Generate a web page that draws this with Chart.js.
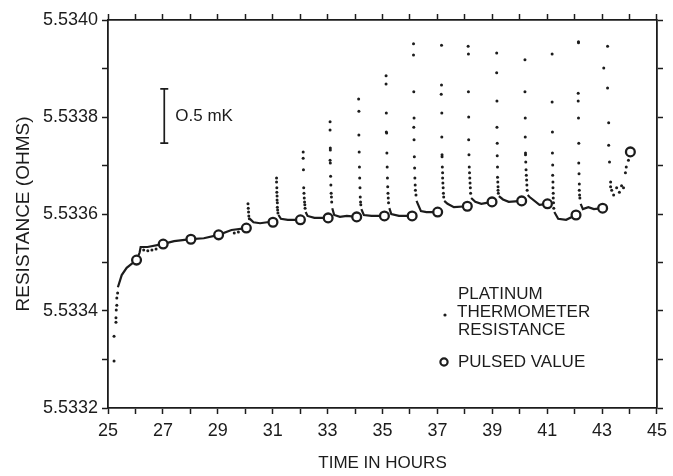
<!DOCTYPE html>
<html>
<head>
<meta charset="utf-8">
<script src="https://cdn.jsdelivr.net/npm/chart.js@4.4.1/dist/chart.umd.min.js"></script>
<style>
  html, body { margin: 0; padding: 0; background: #fff; }
  canvas { display: block; }
</style>
</head>
<body>
<canvas id="chart" width="673" height="476"></canvas>
<script>
// pulsed values (circles)
const pulsedHours = [26.04, 27.01, 28.02, 29.03, 30.04, 31.01, 32.01, 33.02, 34.06, 35.07,
                     36.08, 37.01, 38.09, 38.99, 40.07, 41.01, 42.05, 43.02, 44.03];
const pulsedOhms  = [5.533505, 5.533538, 5.533548, 5.533557, 5.533571, 5.533583, 5.533588, 5.533592, 5.533594, 5.533596,
                     5.533596, 5.533604, 5.533616, 5.533625, 5.533627, 5.533621, 5.533598, 5.533612, 5.533728];

// dense parts of the thermometer record (drawn as a line, null = break)
const traceHours = [
  25.36, 25.50, 25.68, 25.86, 26.04, 26.15, 26.19, 26.44, 26.98, 27.41, 28.02, 28.49, 29.03, 29.50, 30.04, null,
  30.17, 30.30, 30.54, 30.80, 31.01, null,
  31.21, 31.30, 31.55, 32.01, null,
  32.20, 32.27, 32.52, 33.02, null,
  33.17, 33.24, 33.45, 33.70, 34.06, null,
  34.23, 34.32, 34.60, 35.07, null,
  35.25, 35.32, 35.60, 36.08, null,
  36.24, 36.40, 36.60, 37.01, null,
  37.25, 37.37, 37.60, 38.09, null,
  38.23, 38.38, 38.60, 38.99, null,
  39.24, 39.39, 39.60, 40.07, null,
  40.29, 40.36, 40.72, 41.01, null,
  41.26, 41.40, 41.69, 42.05, null,
  42.22, 42.30, 42.50, 42.70, 43.02
];
const traceOhms = [
  5.533449, 5.533474, 5.533489, 5.533497, 5.533505, 5.533520, 5.533532, 5.533532, 5.533538, 5.533544, 5.533548, 5.533550, 5.533557, 5.533567, 5.533571, null,
  5.533590, 5.533583, 5.533581, 5.533583, 5.533583, null,
  5.533598, 5.533590, 5.533588, 5.533588, null,
  5.533604, 5.533596, 5.533592, 5.533592, null,
  5.533612, 5.533598, 5.533594, 5.533596, 5.533594, null,
  5.533610, 5.533598, 5.533596, 5.533596, null,
  5.533612, 5.533600, 5.533596, 5.533596, null,
  5.533627, 5.533606, 5.533604, 5.533604, null,
  5.533627, 5.533621, 5.533614, 5.533616, null,
  5.533633, 5.533625, 5.533621, 5.533625, null,
  5.533637, 5.533630, 5.533625, 5.533627, null,
  5.533639, 5.533635, 5.533619, 5.533621, null,
  5.533604, 5.533590, 5.533588, 5.533598, null,
  5.533621, 5.533610, 5.533614, 5.533610, 5.533612
];

// single readings (dots): start of run, relaxation after each pulse, end of run
const dotHours = [
  25.22, 25.22, 25.29, 25.29, 25.30, 25.32, 25.32, 25.35,
  26.30, 26.45, 26.60, 26.75, 29.60, 29.75,
  30.10, 30.11, 30.12, 30.13, 30.15,
  31.14, 31.14, 31.15, 31.15, 31.16, 31.16, 31.17, 31.17, 31.18, 31.19,
  32.11, 32.11, 32.12, 32.13, 32.14, 32.15, 32.16, 32.17, 32.18,
  33.09, 33.09, 33.10, 33.10, 33.09, 33.10, 33.11, 33.12, 33.13, 33.14, 33.15,
  34.13, 34.14, 34.14, 34.15, 34.16, 34.17, 34.18, 34.19, 34.20, 34.21,
  35.13, 35.13, 35.14, 35.14, 35.15, 35.16, 35.17, 35.18, 35.19, 35.20, 35.21, 35.22,
  36.13, 36.13, 36.14, 36.15, 36.14, 36.15, 36.16, 36.17, 36.18, 36.19, 36.20, 36.22,
  37.15, 37.15, 37.14, 37.16, 37.16, 37.17, 37.17, 37.18, 37.19, 37.19, 37.20, 37.21, 37.22, 37.23,
  38.12, 38.13, 38.13, 38.14, 38.14, 38.15, 38.16, 38.17, 38.18, 38.19, 38.20, 38.21,
  39.16, 39.16, 39.17, 39.17, 39.18, 39.18, 39.19, 39.19, 39.20, 39.21, 39.21, 39.22,
  40.19, 40.19, 40.20, 40.20, 40.21, 40.21, 40.22, 40.23, 40.24, 40.25, 40.26, 40.27,
  41.18, 41.18, 41.19, 41.19, 41.20, 41.20, 41.21, 41.21, 41.22, 41.22, 41.23, 41.24,
  42.14, 42.14, 42.13, 42.13, 42.14, 42.15, 42.15, 42.16, 42.17, 42.17, 42.18, 42.19,
  43.20, 43.06, 43.20, 43.24, 43.24, 43.27, 43.31, 43.31,
  43.35, 43.42, 43.53, 43.63, 43.71, 43.78, 43.85, 43.88, 43.96
];
const dotOhms = [
  5.533297, 5.533348, 5.533377, 5.533386, 5.533402, 5.533412, 5.533427, 5.533437,
  5.533526, 5.533524, 5.533526, 5.533528, 5.533561, 5.533563,
  5.533621, 5.533612, 5.533604, 5.533596, 5.533590,
  5.533674, 5.533666, 5.533654, 5.533645, 5.533637, 5.533629, 5.533623, 5.533614, 5.533608, 5.533602,
  5.533728, 5.533715, 5.533691, 5.533654, 5.533643, 5.533633, 5.533625, 5.533619, 5.533612,
  5.533790, 5.533773, 5.533736, 5.533732, 5.533711, 5.533705, 5.533678, 5.533660, 5.533643, 5.533635, 5.533625,
  5.533837, 5.533812, 5.533763, 5.533728, 5.533697, 5.533674, 5.533654, 5.533635, 5.533625, 5.533619,
  5.533885, 5.533868, 5.533808, 5.533769, 5.533767, 5.533726, 5.533697, 5.533674, 5.533656, 5.533643, 5.533633, 5.533623,
  5.533951, 5.533928, 5.533852, 5.533798, 5.533779, 5.533753, 5.533718, 5.533695, 5.533674, 5.533660, 5.533649, 5.533639,
  5.533948, 5.533866, 5.533847, 5.533808, 5.533759, 5.533722, 5.533718, 5.533697, 5.533685, 5.533674, 5.533664, 5.533654, 5.533643, 5.533635,
  5.533946, 5.533930, 5.533852, 5.533800, 5.533753, 5.533722, 5.533697, 5.533685, 5.533674, 5.533664, 5.533654, 5.533643,
  5.533932, 5.533891, 5.533833, 5.533779, 5.533746, 5.533720, 5.533697, 5.533676, 5.533666, 5.533656, 5.533649, 5.533643,
  5.533918, 5.533852, 5.533798, 5.533759, 5.533726, 5.533722, 5.533707, 5.533691, 5.533680, 5.533670, 5.533660, 5.533649,
  5.533930, 5.533831, 5.533769, 5.533726, 5.533701, 5.533680, 5.533666, 5.533654, 5.533643, 5.533633, 5.533623, 5.533612,
  5.533955, 5.533953, 5.533849, 5.533833, 5.533798, 5.533746, 5.533705, 5.533683, 5.533662, 5.533649, 5.533639, 5.533633,
  5.533946, 5.533901, 5.533860, 5.533788, 5.533742, 5.533707, 5.533666, 5.533656,
  5.533649, 5.533639, 5.533654, 5.533645, 5.533658, 5.533654, 5.533685, 5.533697, 5.533711
];

// axis range / 0.5 mK scale bar
const xMin = 25, xMax = 45;
const yMin = 5.5332, yMax = 5.5340;
const barHour = 27.05, barLow = 5.533746, barHigh = 5.533858;

const ink = '#1c1c1c';
const FONT = '"Liberation Sans", Arial, Helvetica, sans-serif';
Chart.defaults.font.family = FONT;
Chart.defaults.color = ink;

const toPts = (xs, ys) => xs.map((x, i) => ({ x: x === null ? NaN : x, y: ys[i] }));

// the chart frame: all four sides with outward ticks
function frameAxis(position, isX, extra) {
  return Object.assign({
    type: 'linear',
    position: position,
    min: isX ? xMin : yMin,
    max: isX ? xMax : yMax,
    border: { display: true, color: ink, width: 1.8 },
    grid: { drawOnChartArea: false, drawTicks: true, tickLength: 6, tickColor: ink, tickWidth: 1.5 },
    ticks: { stepSize: isX ? 1 : 0.0001, autoSkip: false, maxRotation: 0, display: false }
  }, extra);
}

const annotations = {
  id: 'annotations',
  afterDraw(chart) {
    const ctx = chart.ctx;
    const xs = chart.scales.x, ys = chart.scales.y;
    ctx.save();
    ctx.strokeStyle = ink;
    ctx.fillStyle = ink;

    // 0.5 mK scale bar
    const bx = xs.getPixelForValue(barHour);
    const b1 = ys.getPixelForValue(barLow), b2 = ys.getPixelForValue(barHigh);
    ctx.lineWidth = 1.7;
    ctx.beginPath();
    ctx.moveTo(bx, b1); ctx.lineTo(bx, b2);
    ctx.moveTo(bx - 4, b1); ctx.lineTo(bx + 4, b1);
    ctx.moveTo(bx - 4, b2); ctx.lineTo(bx + 4, b2);
    ctx.stroke();
    ctx.font = '17px ' + FONT;
    ctx.textBaseline = 'middle';
    ctx.textAlign = 'left';
    ctx.fillText('O.5 mK', bx + 11, (b1 + b2) / 2);

    // key
    ctx.beginPath();
    ctx.arc(445, 315, 1.6, 0, Math.PI * 2);
    ctx.fill();
    ctx.fillText('PLATINUM', 458, 294);
    ctx.fillText('THERMOMETER', 457, 312);
    ctx.fillText('RESISTANCE', 458, 330);
    ctx.lineWidth = 2.2;
    ctx.beginPath();
    ctx.arc(444, 362, 3.6, 0, Math.PI * 2);
    ctx.stroke();
    ctx.fillText('PULSED VALUE', 458, 362);
    ctx.restore();
  }
};

new Chart(document.getElementById('chart'), {
  type: 'scatter',
  data: {
    datasets: [
      {
        label: 'PULSED VALUE',
        data: toPts(pulsedHours, pulsedOhms),
        pointStyle: 'circle',
        pointRadius: 4.4,
        pointBorderWidth: 2.3,
        pointBackgroundColor: '#fff',
        pointBorderColor: ink,
        showLine: false
      },
      {
        label: 'PLATINUM THERMOMETER RESISTANCE',
        data: toPts(dotHours, dotOhms),
        pointRadius: 1.5,
        pointBorderWidth: 0,
        pointBackgroundColor: ink,
        showLine: false
      },
      {
        label: 'trace',
        data: toPts(traceHours, traceOhms),
        showLine: true,
        spanGaps: false,
        borderColor: ink,
        borderWidth: 2.2,
        pointRadius: 0,
        tension: 0
      }
    ]
  },
  options: {
    responsive: false,
    animation: false,
    layout: { padding: 0 },
    plugins: { legend: { display: false }, tooltip: { enabled: false } },
    scales: {
      x: frameAxis('bottom', true, {
        ticks: {
          stepSize: 1, autoSkip: false, maxRotation: 0, padding: 6, color: ink,
          font: { size: 18 },
          callback: v => (Math.round(v) % 2 === 1 ? String(Math.round(v)) : '')
        },
        title: { display: true, text: 'TIME IN HOURS', color: ink, font: { size: 17 }, padding: { top: 0, bottom: 2 } },
        afterFit: s => { s.height = 68; }
      }),
      x2: frameAxis('top', true, { afterFit: s => { s.height = 20; } }),
      y: frameAxis('left', false, {
        ticks: {
          stepSize: 0.0001, autoSkip: false, padding: 4, color: ink,
          font: { size: 18 },
          callback: v => (Math.round(v * 1e4) % 2 === 0 ? v.toFixed(4) : '')
        },
        title: { display: true, text: 'RESISTANCE (OHMS)', color: ink, font: { size: 19 }, padding: { top: 12, bottom: 0 } },
        afterFit: s => { s.width = 108; }
      }),
      y2: frameAxis('right', false, { afterFit: s => { s.width = 9; } })
    }
  },
  plugins: [annotations]
});
</script>
</body>
</html>
